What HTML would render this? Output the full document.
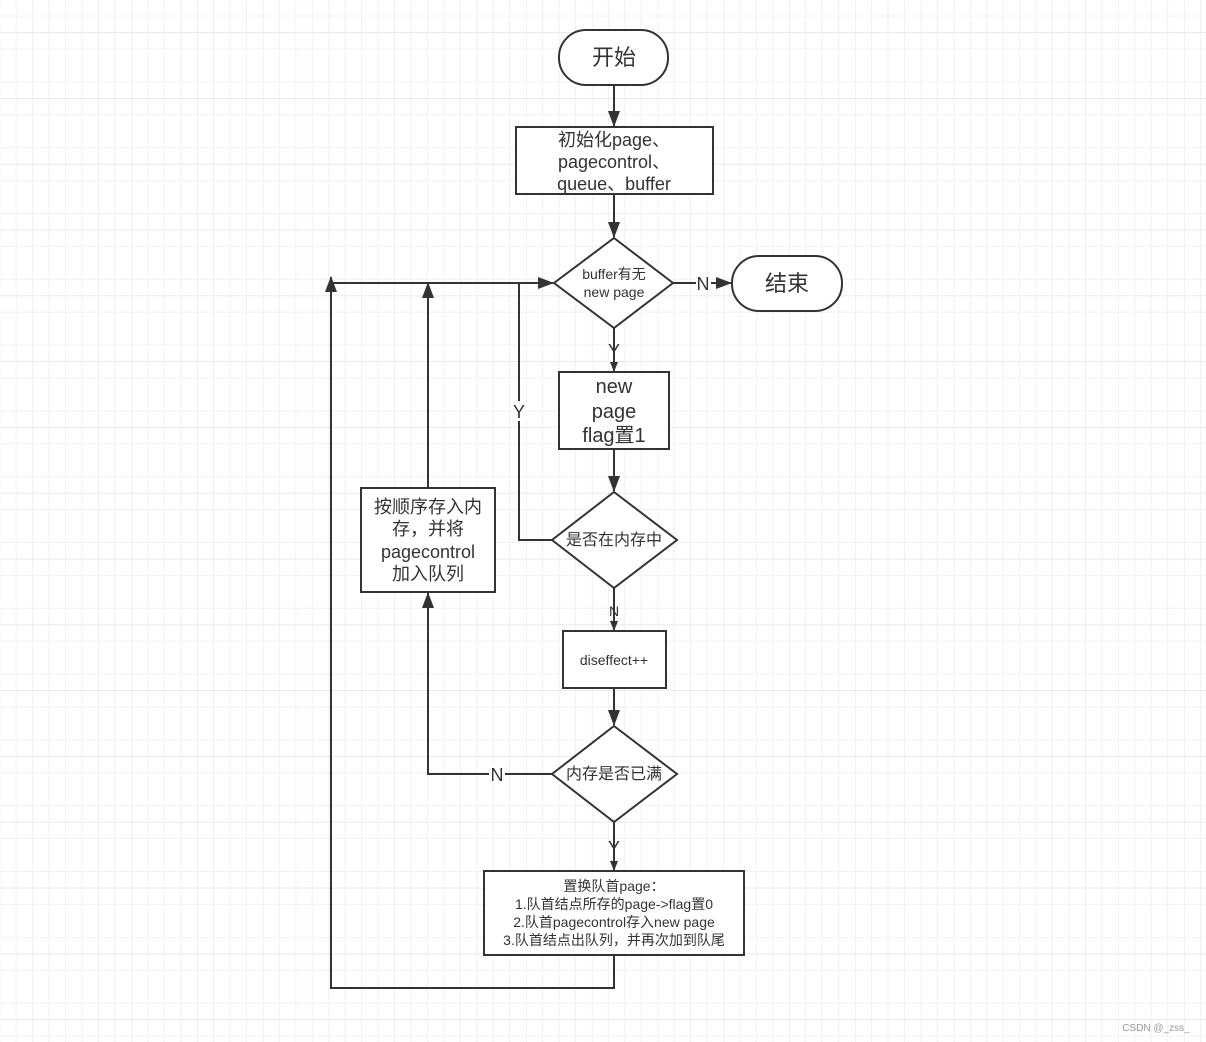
<!DOCTYPE html>
<html><head><meta charset="utf-8"><style>
html,body{margin:0;padding:0;background:#fff;}
svg{display:block;}
text{font-family:"Liberation Sans","Noto Sans CJK SC",sans-serif;fill:#333;text-anchor:middle;}
</style></head><body>
<svg width="1206" height="1042" viewBox="0 0 1206 1042" xmlns="http://www.w3.org/2000/svg">
<defs>
<pattern id="g" x="-0.3" y="-0.4" width="65.8" height="65.8" patternUnits="userSpaceOnUse">
<path d="M16.45 0V65.8M32.9 0V65.8M49.35 0V65.8M0 16.45H65.8M0 32.9H65.8M0 49.35H65.8" stroke="#f1f1f1" stroke-width="1"/>
<path d="M65.8 0V65.8M0 32.9H65.8" stroke="none"/>
</pattern>
<pattern id="G" x="-0.3" y="32.5" width="65.8" height="65.8" patternUnits="userSpaceOnUse">
<path d="M0 0H65.8" stroke="#e4e4e4" stroke-width="1"/>
</pattern>
<pattern id="V" x="65.5" y="0" width="65.8" height="65.8" patternUnits="userSpaceOnUse">
<path d="M0 0V65.8" stroke="#e4e4e4" stroke-width="1"/>
</pattern>
<marker id="a" markerWidth="10" markerHeight="10" refX="9" refY="5" orient="auto" markerUnits="userSpaceOnUse"><path d="M0 1L10 5L0 9Z" fill="#333"/></marker>
<marker id="b" markerWidth="16" markerHeight="12" refX="15" refY="6" orient="auto" markerUnits="userSpaceOnUse"><path d="M0 0L16 6L0 12Z" fill="#333"/></marker>
</defs>
<rect width="1206" height="1042" fill="url(#g)"/>
<rect width="1206" height="1042" fill="url(#G)"/>
<rect width="1206" height="1042" fill="url(#V)"/>
<g stroke="#333" stroke-width="2" fill="none">
<line x1="614" y1="85" x2="614" y2="126" marker-end="url(#b)"/>
<line x1="614" y1="194" x2="614" y2="237" marker-end="url(#b)"/>
<line x1="673" y1="283" x2="731" y2="283" marker-end="url(#b)"/>
<line x1="614" y1="328" x2="614" y2="371" marker-end="url(#a)"/>
<line x1="614" y1="449" x2="614" y2="491" marker-end="url(#b)"/>
<line x1="614" y1="588" x2="614" y2="630" marker-end="url(#a)"/>
<line x1="614" y1="688" x2="614" y2="725" marker-end="url(#b)"/>
<line x1="614" y1="822" x2="614" y2="870" marker-end="url(#a)"/>
<polyline points="552,540 519,540 519,283"/>
<line x1="330" y1="283" x2="553" y2="283" marker-end="url(#b)"/>
<polyline points="614,955 614,988 331,988 331,277" marker-end="url(#b)"/>
<line x1="428" y1="488" x2="428" y2="283" marker-end="url(#b)"/>
<polyline points="552,774 428,774 428,593" marker-end="url(#b)"/>
</g>
<g stroke="#333" stroke-width="2" fill="#fff">
<rect x="559" y="30" width="109" height="55" rx="27"/>
<rect x="516" y="127" width="197" height="67"/>
<polygon points="614,238 673,283 614,328 554,283"/>
<rect x="732" y="256" width="110" height="55" rx="27"/>
<rect x="559" y="372" width="110" height="77"/>
<polygon points="614,492 677,540 614,588 552,540"/>
<rect x="563" y="631" width="103" height="57"/>
<polygon points="614,726 677,774 614,822 552,774"/>
<rect x="361" y="488" width="134" height="104"/>
<rect x="484" y="871" width="260" height="84"/>
</g>
<g>
<text x="614" y="65" font-size="22">开始</text>
<text x="614" y="146" font-size="18">初始化page、</text>
<text x="614" y="168" font-size="18">pagecontrol、</text>
<text x="614" y="190" font-size="18">queue、buffer</text>
<text x="614" y="279" font-size="14">buffer有无</text>
<text x="614" y="297" font-size="14">new page</text>
<rect x="696" y="274" width="15" height="18" fill="#fff"/>
<text x="703" y="290" font-size="18">N</text>
<text x="787" y="291" font-size="22">结束</text>
<text x="614" y="357" font-size="18">Y</text>
<text x="614" y="393" font-size="20">new</text>
<text x="614" y="418" font-size="20">page</text>
<text x="614" y="442" font-size="20">flag置1</text>
<rect x="512" y="401" width="15" height="20" fill="#fff"/>
<text x="519" y="418" font-size="18">Y</text>
<text x="614" y="545" font-size="16">是否在内存中</text>
<text x="614" y="616" font-size="14">N</text>
<text x="614" y="665" font-size="14">diseffect++</text>
<text x="614" y="779" font-size="16">内存是否已满</text>
<rect x="489" y="765" width="16" height="18" fill="#fff"/>
<text x="497" y="781" font-size="18">N</text>
<text x="614" y="854" font-size="18">Y</text>
<text x="428" y="513" font-size="18">按顺序存入内</text>
<text x="428" y="535" font-size="18">存，并将</text>
<text x="428" y="558" font-size="18">pagecontrol</text>
<text x="428" y="580" font-size="18">加入队列</text>
<text x="614" y="891" font-size="14">置换队首page：</text>
<text x="614" y="909" font-size="14">1.队首结点所存的page-&gt;flag置0</text>
<text x="614" y="927" font-size="14">2.队首pagecontrol存入new page</text>
<text x="614" y="945" font-size="14">3.队首结点出队列，并再次加到队尾</text>
<text x="1156" y="1031" font-size="10" style="fill:#999">CSDN @_zss_</text>
</g>
</svg>
</body></html>
